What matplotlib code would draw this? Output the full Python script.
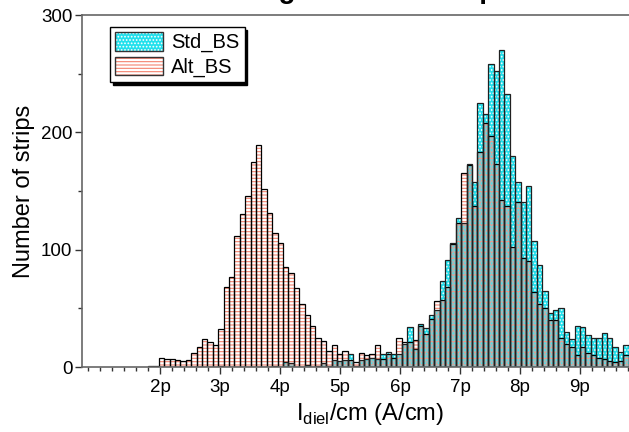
import numpy as np
import matplotlib.pyplot as plt
from matplotlib.patches import Patch
from matplotlib.legend_handler import HandlerTuple
from matplotlib.ticker import MultipleLocator, FixedLocator

plt.rcParams['font.family'] = ['Liberation Sans', 'DejaVu Sans']
plt.rcParams['hatch.linewidth'] = 0.8

# histogram bins: 0.09 pA/cm wide, first bin starts at 20 * 0.09 = 1.8p
bin_width = 0.09
first_bin = 20

alt_bs = [1, 1, 8, 7, 7, 6, 5, 6, 12, 17,
          24, 21, 19, 32, 68, 77, 112, 130, 146, 175,
          189, 152, 131, 114, 106, 85, 80, 67, 54, 44,
          35, 25, 22, 14, 19, 11, 14, 6, 4, 12,
          10, 11, 19, 7, 11, 8, 25, 21, 21, 23,
          35, 28, 41, 56, 57, 68, 105, 123, 165, 172,
          137, 183, 208, 197, 173, 142, 137, 102, 141, 93,
          90, 64, 54, 50, 40, 40, 25, 20, 17, 10,
          17, 12, 10, 8, 7, 5, 4, 5, 10]

std_bs = [0, 0, 0, 0, 0, 0, 0, 0, 0, 0,
          0, 0, 0, 1, 0, 0, 0, 0, 0, 0,
          0, 0, 0, 1, 0, 4, 3, 0, 0, 2,
          0, 1, 3, 1, 6, 5, 6, 11, 1, 6,
          7, 8, 7, 11, 13, 11, 11, 20, 34, 15,
          37, 33, 44, 49, 73, 91, 106, 127, 123, 173,
          158, 225, 216, 258, 252, 270, 233, 180, 158, 141,
          154, 107, 87, 65, 46, 49, 50, 30, 24, 35,
          34, 27, 25, 25, 29, 25, 17, 13, 19]

x_ticks = [2, 3, 4, 5, 6, 7, 8, 9]
y_ticks = [0, 100, 200, 300]

alt = np.array(alt_bs)
std = np.array(std_bs)
both = np.minimum(alt, std)
left = (first_bin + np.arange(len(alt))) * bin_width

cyan = '#22e0ec'
salmon = '#f4826e'
mix = '#a8baba'
dots = '.....'
lines = '-----'

fig = plt.figure(figsize=(6.29, 4.32), dpi=100)
# the axes run on past the right edge of the figure
ax = fig.add_axes([82 / 629, 65 / 432, 576 / 629, 352 / 432])

kw = dict(width=bin_width, align='edge')
# Alt_BS: white bars with salmon horizontal lines
ax.bar(left, alt, color='white', lw=0, **kw)
ax.bar(left, alt, facecolor='none', edgecolor=salmon, hatch=lines, lw=0, **kw)
# Std_BS: cyan bars with white dots
ax.bar(left, std, color=cyan, lw=0, **kw)
ax.bar(left, std, facecolor='none', edgecolor='white', hatch=dots, lw=0, **kw)
# where both samples overlap the colours mix
ax.bar(left, both, color=mix, lw=0, **kw)
ax.bar(left, both, facecolor='none', edgecolor='#ec9a8c', hatch='---', lw=0, **kw)
ax.bar(left, both, facecolor='none', edgecolor='#3ee8f2', hatch=dots, lw=0, **kw)
# outlines of both histograms
ax.bar(left, alt, facecolor='none', edgecolor='black', lw=0.9, **kw)
ax.bar(left, std, facecolor='none', edgecolor='#202020', lw=0.9, **kw)

ax.set_xlim(0.7, 10.3)
ax.set_ylim(0, 300)

ax.xaxis.set_major_locator(FixedLocator(x_ticks))
ax.set_xticklabels([f'{t}p' for t in x_ticks])
ax.xaxis.set_minor_locator(MultipleLocator(0.2))
ax.yaxis.set_major_locator(FixedLocator(y_ticks))
ax.yaxis.set_minor_locator(MultipleLocator(50))
ax.tick_params(which='both', direction='out', labelsize=13.5, color='#333333')
ax.tick_params(which='major', length=5, width=1)
ax.tick_params(which='minor', length=3, width=1)
ax.tick_params(axis='x', pad=4)
ax.tick_params(axis='y', pad=2)

for side in ['left', 'bottom', 'top', 'right']:
    ax.spines[side].set_color('#666666')
    ax.spines[side].set_linewidth(1.2)

ax.set_xlabel('I$_{\\mathregular{diel}}$/cm (A/cm)', fontsize=17, labelpad=3)
ax.set_ylabel('Number of strips', fontsize=17, labelpad=4)

fig.text(390 / 629, 1.004, 'Leakage current comparison', fontsize=20,
         fontweight='bold', ha='center', va='baseline')

std_handle = (Patch(facecolor=cyan, lw=0),
              Patch(facecolor='none', edgecolor='white', hatch=dots, lw=0),
              Patch(facecolor='none', edgecolor='#333333', lw=1))
alt_handle = (Patch(facecolor='white', lw=0),
              Patch(facecolor='none', edgecolor=salmon, hatch=lines, lw=0),
              Patch(facecolor='none', edgecolor='#333333', lw=1))
leg = ax.legend([std_handle, alt_handle], ['Std_BS', 'Alt_BS'],
                handler_map={tuple: HandlerTuple(ndivide=1)},
                loc='upper left', bbox_to_anchor=(28 / 576, 340 / 352),
                borderaxespad=0, fontsize=14.5, handlelength=2.4,
                handleheight=1.05, handletextpad=0.4, borderpad=0.25,
                labelspacing=0.2, fancybox=False, framealpha=1,
                edgecolor='black', shadow={'color': 'black', 'alpha': 1})
leg.get_frame().set_linewidth(1)

fig.savefig('out.png', dpi=100)
